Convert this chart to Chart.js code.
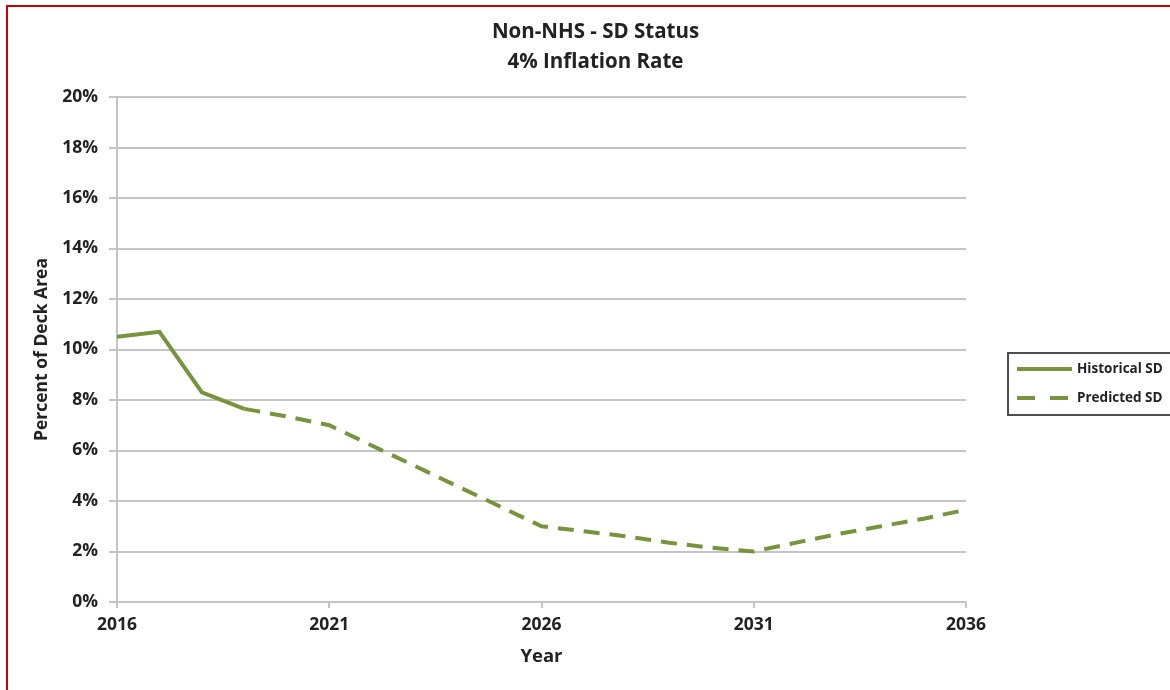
<!DOCTYPE html>
<html lang="en">
<head>
    <meta charset="UTF-8">
    <title>Non-NHS - SD Status</title>
    <script src="https://cdn.jsdelivr.net/npm/chart.js"></script>
    <style>
        html, body { margin: 0; padding: 0; background: #fff; overflow: hidden; }
        .frame {
            position: absolute;
            left: 6px;
            top: 5px;
            width: 1200px;
            height: 720px;
            border: 2px solid #cc0000;
        }
        .chart-box {
            position: absolute;
            left: 8px;
            top: 7px;
            width: 1175px;
            height: 683px;
        }
    </style>
</head>
<body>
    <div class="frame"></div>
    <div class="chart-box">
        <canvas id="sdChart"></canvas>
    </div>

    <script>
        const years = [2016, 2017, 2018, 2019, 2020, 2021, 2022, 2023, 2024, 2025, 2026,
                       2027, 2028, 2029, 2030, 2031, 2032, 2033, 2034, 2035, 2036];
        const historicalSD = [10.5, 10.7, 8.3, 7.65, null, null, null, null, null, null, null,
                              null, null, null, null, null, null, null, null, null, null];
        const predictedSD = [null, null, null, 7.65, 7.35, 7.0, 6.2, 5.4, 4.6, 3.8, 3.0,
                             2.8, 2.6, 2.35, 2.15, 2.0, 2.35, 2.7, 3.0, 3.3, 3.65];
        const yearTicks = [2016, 2021, 2026, 2031, 2036];

        const green = '#77933c';
        const gridGray = '#c4c4c4';
        const textColor = '#222222';
        const font = '"Open Sans", Lato, sans-serif';

        function toPoints(values) {
            return years.map((yr, i) => ({ x: yr, y: values[i] }));
        }

        // boxed legend to the right of the plot
        const boxedLegend = {
            id: 'boxedLegend',
            afterDraw(chart) {
                const ctx = chart.ctx;
                const area = chart.chartArea;
                const left = area.right + 42;
                const top = 346;
                ctx.save();
                ctx.strokeStyle = '#4d4d4d';
                ctx.lineWidth = 2;
                ctx.strokeRect(left, top, 175, 62);
                chart.data.datasets.forEach((ds, i) => {
                    const y = top + 16 + i * 29;
                    ctx.strokeStyle = ds.borderColor;
                    ctx.lineWidth = ds.borderWidth;
                    ctx.setLineDash(ds.borderDash ? [18, 15] : []);
                    ctx.beginPath();
                    ctx.moveTo(left + 9, y);
                    ctx.lineTo(left + 64, y);
                    ctx.stroke();
                    ctx.setLineDash([]);
                    ctx.fillStyle = textColor;
                    ctx.font = 'bold 13.5px ' + font;
                    ctx.textBaseline = 'middle';
                    ctx.fillText(ds.label, left + 69, y);
                });
                ctx.restore();
            }
        };

        const ctx = document.getElementById('sdChart').getContext('2d');
        new Chart(ctx, {
            type: 'line',
            data: {
                datasets: [{
                    label: 'Historical SD',
                    data: toPoints(historicalSD),
                    borderColor: green,
                    borderWidth: 4,
                    pointRadius: 0,
                    tension: 0,
                    spanGaps: false
                }, {
                    label: 'Predicted SD',
                    data: toPoints(predictedSD),
                    borderColor: green,
                    borderWidth: 4,
                    borderDash: [16, 10],
                    pointRadius: 0,
                    tension: 0,
                    spanGaps: false
                }]
            },
            options: {
                responsive: true,
                maintainAspectRatio: false,
                animation: false,
                layout: { padding: 0 },
                plugins: {
                    legend: { display: false },
                    tooltip: { enabled: false },
                    title: {
                        display: true,
                        text: ['Non-NHS - SD Status', '4% Inflation Rate'],
                        color: textColor,
                        font: { family: font, size: 20.5, weight: 'bold', lineHeight: 1.42 },
                        padding: { top: 11, bottom: 20.8 }
                    }
                },
                scales: {
                    x: {
                        type: 'linear',
                        min: 2016,
                        max: 2036,
                        afterBuildTicks: scale => {
                            scale.ticks = yearTicks.map(v => ({ value: v }));
                        },
                        afterFit: scale => { scale.height = 88; },
                        ticks: {
                            color: textColor,
                            font: { family: font, size: 17.5, weight: 'bold' },
                            padding: 7,
                            maxRotation: 0,
                            callback: v => String(v)
                        },
                        grid: {
                            drawOnChartArea: false,
                            drawTicks: true,
                            tickLength: 6,
                            color: gridGray,
                            lineWidth: 2
                        },
                        border: { display: true, color: gridGray, width: 2 },
                        title: {
                            display: true,
                            text: 'Year',
                            color: textColor,
                            font: { family: font, size: 18.5, weight: 'bold' },
                            padding: { top: 0, bottom: 22 }
                        }
                    },
                    y: {
                        min: 0,
                        max: 20,
                        afterFit: scale => { scale.width = 109; },
                        ticks: {
                            stepSize: 2,
                            color: textColor,
                            font: { family: font, size: 17.5, weight: 'bold' },
                            padding: 11,
                            callback: v => v + '%'
                        },
                        grid: {
                            color: gridGray,
                            lineWidth: 2,
                            tickLength: 8
                        },
                        border: { display: true, color: gridGray, width: 2 },
                        title: {
                            display: true,
                            text: 'Percent of Deck Area',
                            color: textColor,
                            font: { family: font, size: 17.5, weight: 'bold' },
                            padding: { top: 24, bottom: 0 }
                        }
                    },
                    gap: {
                        type: 'linear',
                        position: 'right',
                        afterFit: scale => { scale.width = 217; },
                        ticks: { display: false },
                        grid: { display: false },
                        border: { display: false }
                    }
                }
            },
            plugins: [boxedLegend]
        });
    </script>
</body>
</html>
